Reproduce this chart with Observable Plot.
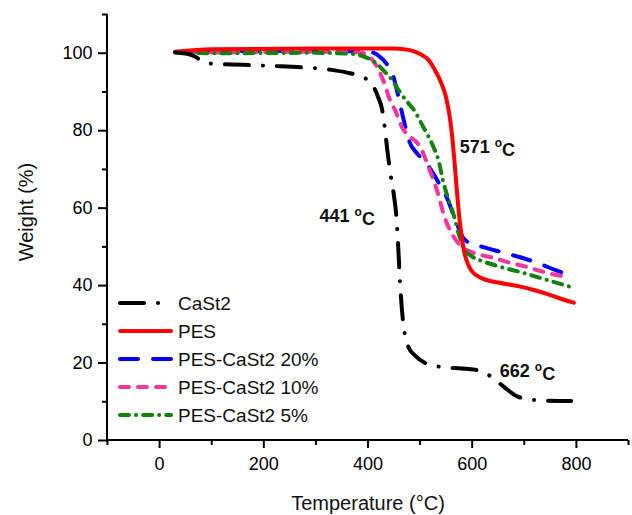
<!DOCTYPE html>
<html><head><meta charset="utf-8">
<script src="https://cdn.jsdelivr.net/npm/d3@7"></script>
<script src="https://cdn.jsdelivr.net/npm/@observablehq/plot@0.6"></script>
<style>body{margin:0;background:#fff;} #chart{width:632px;height:515px;}</style>
</head><body><div id="chart"></div>
<script>
// ---- data (temperature °C, weight %) ----
const seriesNames = ["CaSt2", "PES", "PES-CaSt2 20%", "PES-CaSt2 10%", "PES-CaSt2 5%"];

const cast2 = [[30,100.2],[55,99.8],[70,99],[80,98],[100,97.3],[160,97],[220,96.7],[280,96.3],[330,95.7],[360,95],[380,94.3],[400,93],[412,91],[420,88.5],[427,85.5],[432,81],[437,75],[443,69],[450,63],[455,57],[458,50],[461,42],[465,34],[470,28],[478,24],[490,22],[510,20],[540,19],[580,18.6],[605,18.3],[625,17.4],[645,15.6],[665,13.4],[685,11.5],[705,10.7],[740,10.3],[790,10.2]];

const pes = [[30,100.4],[100,101],[300,101.2],[450,101.2],[480,100.8],[500,99.8],[515,98.4],[530,95.3],[540,92.5],[550,88.5],[557,83.5],[562,78],[566,72],[570,65.5],[575,58],[580,52.5],[585,48.5],[592,45.5],[600,43.6],[620,41.8],[650,40.8],[690,39.8],[720,38.8],[745,37.8],[770,36.6],[795,35.6]];

const pes20 = [[30,100.3],[100,100.5],[300,100.6],[400,100.4],[420,99.4],[435,97.4],[448,94.3],[458,89],[468,83],[480,77],[495,74],[510,72],[525,69],[540,65.5],[552,62.5],[562,59],[572,55.5],[582,52.5],[595,51],[620,50],[660,48.5],[700,47],[730,45.6],[760,44],[780,43]];

const pes10 = [[30,100.3],[100,100.2],[300,100.4],[385,100.2],[405,98.8],[420,95.8],[432,92],[442,88],[452,85.3],[465,81],[480,78.5],[495,76.8],[505,74.5],[515,71],[525,67.5],[535,63.5],[545,58.5],[555,55],[565,52.5],[580,50],[600,48.6],[640,47.2],[670,46],[700,45],[730,43.8],[760,42.8],[780,42.3]];

const pes5 = [[30,100.2],[100,100],[300,100.1],[370,99.8],[395,99],[415,97.5],[430,95.5],[445,93.3],[460,90.2],[475,87.5],[490,85],[500,82.5],[512,79.5],[525,76],[535,72.5],[545,66.5],[555,62],[565,58],[575,53],[585,49.5],[600,47.5],[620,46.3],[650,45],[700,43.2],[750,41.2],[793,39.5]];

const seriesData = [cast2, pes, pes20, pes10, pes5];

const xTicks = [0, 200, 400, 600, 800];
const xMinorTicks = [-100, 100, 300, 500, 700, 900];
const yTicks = [0, 20, 40, 60, 80, 100];
const yMinorTicks = [10, 30, 50, 70, 90, 110];

const annoTemps = [307, 576, 653];
const annoWeights = [57.8, 75.6, 17.8];
const annoLabels = ["441", "571", "662"];

// ---- styles ----
const styleOf = {
  "CaSt2":         {stroke: "#000000", dash: "24,14,0.1,14"},
  "PES":           {stroke: "#ff0000", dash: null},
  "PES-CaSt2 20%": {stroke: "#0000ff", dash: "18,15"},
  "PES-CaSt2 10%": {stroke: "#f5359c", dash: "9,9"},
  "PES-CaSt2 5%":  {stroke: "#0f820f", dash: "9,7,0.1,7"}
};
const drawOrder = ["PES-CaSt2 20%", "PES-CaSt2 10%", "PES-CaSt2 5%", "PES", "CaSt2"];

const rows = seriesNames.flatMap((s, i) => seriesData[i].map(([t, w]) => ({series: s, t, w})));
const annos = annoLabels.map((l, i) => ({t: annoTemps[i], w: annoWeights[i], label: l}));

const FONT = "'Liberation Sans', Arial, sans-serif";

const lineMarks = drawOrder.map(s => Plot.line(rows.filter(r => r.series === s), {
  x: "t", y: "w", curve: "monotone-x",
  stroke: styleOf[s].stroke, strokeWidth: 4,
  strokeDasharray: styleOf[s].dash || undefined,
  strokeLinecap: "round", strokeLinejoin: "round"
}));

const plot = Plot.plot({
  width: 632, height: 515,
  marginLeft: 107, marginRight: 4, marginTop: 14, marginBottom: 75,
  style: {fontFamily: FONT},
  x: {domain: [-100, 900]},
  y: {domain: [0, 110]},
  marks: [
    ...lineMarks,
    Plot.axisX({ticks: xTicks, tickSize: 8, tickPadding: 9, fontSize: 18, strokeWidth: 2, label: null}),
    Plot.axisX({ticks: xMinorTicks, tickSize: 5, strokeWidth: 2, tickFormat: () => "", label: null}),
    Plot.axisY({ticks: yTicks, tickSize: 9, tickPadding: 6, fontSize: 18, strokeWidth: 2, label: null}),
    Plot.axisY({ticks: yMinorTicks, tickSize: 5, strokeWidth: 2, tickFormat: () => "", label: null}),
    Plot.text(annos, {x: "t", y: "w", text: "label", textAnchor: "start", fontSize: 18, fontWeight: "bold", fill: "#111", className: "anno"})
  ]
});

const svg = d3.select(plot);
const sx = plot.scale("x"), sy = plot.scale("y");
const X = v => sx.apply(v), Y = v => sy.apply(v);

// axis spines
const ax = svg.append("g");
const seg = (x1, y1, x2, y2) => ax.append("line").attr("x1", x1).attr("y1", y1).attr("x2", x2).attr("y2", y2)
  .attr("stroke", "black").attr("stroke-width", 2);
seg(X(-100), Y(0), X(-100), Y(110));
seg(X(-100) - 1, Y(0), X(900), Y(0));

// superscript "o" for annotations
svg.selectAll(".anno text").each(function() {
  const el = d3.select(this);
  const num = el.text();
  el.text(num + " ");
  el.append("tspan").attr("font-size", 12).attr("dy", "-0.5em").text("o");
  el.append("tspan").attr("dy", "0.5em").text("C");
});

// axis titles
svg.append("text").attr("x", 368).attr("y", 510).attr("text-anchor", "middle")
  .attr("font-family", FONT).attr("font-size", 20).attr("fill", "#111").text("Temperature (°C)");
svg.append("text").attr("transform", "translate(33,212) rotate(-90)").attr("text-anchor", "middle")
  .attr("font-family", FONT).attr("font-size", 20).attr("fill", "#111").text("Weight (%)");

// legend
const lg = svg.append("g");
seriesNames.forEach((s, i) => {
  const y = 303 + i * 28;
  lg.append("line").attr("x1", 120).attr("x2", 171).attr("y1", y).attr("y2", y)
    .attr("stroke", styleOf[s].stroke).attr("stroke-width", 4).attr("stroke-linecap", "round")
    .attr("stroke-dasharray", styleOf[s].dash || null);
  lg.append("text").attr("x", 178).attr("y", y).attr("dy", "0.35em").attr("text-anchor", "start")
    .attr("font-family", FONT).attr("font-size", 19).attr("fill", "#111").text(s);
});

document.getElementById("chart").appendChild(plot);
</script></body></html>
